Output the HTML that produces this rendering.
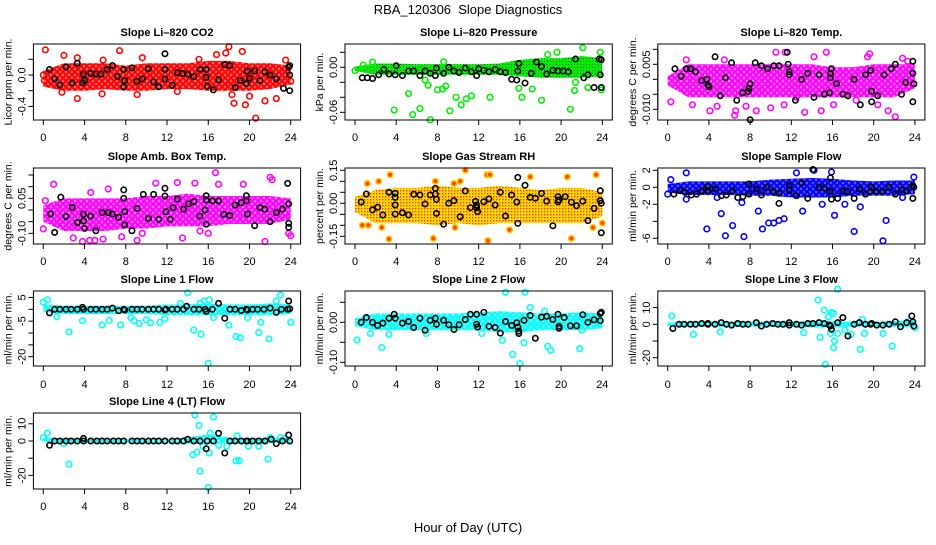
<!DOCTYPE html>
<html><head><meta charset="utf-8"><style>
html,body{margin:0;padding:0;background:#fff;}
svg text{font-family:"Liberation Sans",Arial,sans-serif;fill:#000;}
</style></head><body>
<svg id="chart" width="936" height="540" viewBox="0 0 936 540" xmlns="http://www.w3.org/2000/svg">
<defs>
<pattern id="patRH" width="3" height="3" patternUnits="userSpaceOnUse"><rect width="3" height="3" fill="#ffdd00"/><rect x="1" y="1" width="1.4" height="1.4" fill="#ff3300"/></pattern>
<pattern id="patGreen" width="3" height="3" patternUnits="userSpaceOnUse"><rect width="3" height="3" fill="#00ee00"/><rect x="1" y="1" width="1" height="1" fill="#115511"/></pattern>
<pattern id="patRed" width="6" height="6" patternUnits="userSpaceOnUse"><rect width="6" height="6" fill="#ff7070"/><circle cx="3" cy="3" r="2.4" fill="none" stroke="#ff0000" stroke-width="1.6"/><circle cx="0" cy="0" r="2.4" fill="none" stroke="#ff0000" stroke-width="1.6"/><circle cx="6" cy="6" r="2.4" fill="none" stroke="#ff0000" stroke-width="1.6"/><circle cx="0" cy="6" r="2.4" fill="none" stroke="#ff0000" stroke-width="1.6"/><circle cx="6" cy="0" r="2.4" fill="none" stroke="#ff0000" stroke-width="1.6"/></pattern>
<pattern id="patMag" width="6" height="6" patternUnits="userSpaceOnUse"><rect width="6" height="6" fill="#ff80ff"/><circle cx="3" cy="3" r="2.4" fill="none" stroke="#ff00ff" stroke-width="1.6"/><circle cx="0" cy="0" r="2.4" fill="none" stroke="#ff00ff" stroke-width="1.6"/><circle cx="6" cy="6" r="2.4" fill="none" stroke="#ff00ff" stroke-width="1.6"/><circle cx="0" cy="6" r="2.4" fill="none" stroke="#ff00ff" stroke-width="1.6"/><circle cx="6" cy="0" r="2.4" fill="none" stroke="#ff00ff" stroke-width="1.6"/></pattern>
<pattern id="patBlue" width="6" height="6" patternUnits="userSpaceOnUse"><rect width="6" height="6" fill="#6060ff"/><circle cx="3" cy="3" r="2.4" fill="none" stroke="#0000ff" stroke-width="1.6"/><circle cx="0" cy="0" r="2.4" fill="none" stroke="#0000ff" stroke-width="1.6"/><circle cx="6" cy="6" r="2.4" fill="none" stroke="#0000ff" stroke-width="1.6"/><circle cx="0" cy="6" r="2.4" fill="none" stroke="#0000ff" stroke-width="1.6"/><circle cx="6" cy="0" r="2.4" fill="none" stroke="#0000ff" stroke-width="1.6"/></pattern>
<pattern id="patCyan" width="6" height="6" patternUnits="userSpaceOnUse"><rect width="6" height="6" fill="#80ffff"/><circle cx="3" cy="3" r="2.4" fill="none" stroke="#00ffff" stroke-width="1.6"/><circle cx="0" cy="0" r="2.4" fill="none" stroke="#00ffff" stroke-width="1.6"/><circle cx="6" cy="6" r="2.4" fill="none" stroke="#00ffff" stroke-width="1.6"/><circle cx="0" cy="6" r="2.4" fill="none" stroke="#00ffff" stroke-width="1.6"/><circle cx="6" cy="0" r="2.4" fill="none" stroke="#00ffff" stroke-width="1.6"/></pattern>
</defs>
<text x="468" y="14" font-size="13" text-anchor="middle" xml:space="preserve">RBA_120306&#160; Slope Diagnostics</text>
<text x="468" y="532" font-size="13" text-anchor="middle">Hour of Day (UTC)</text>
<g id="panels"></g>
</svg>
<script>
const xTicks = [0,4,8,12,16,20,24];
const bandHours = [0,2,4,6,8,10,12,14,16,18,20,22,24];

// Panel 1: Li-820 CO2
const p1Lo = [-0.15,-0.2,-0.2,-0.18,-0.2,-0.2,-0.18,-0.18,-0.2,-0.2,-0.2,-0.18,-0.12];
const p1Hi = [0.05,0.15,0.15,0.15,0.12,0.15,0.15,0.15,0.18,0.18,0.15,0.15,0.12];
const p1Pts = [[0,0],[0.1,-0.07],[0.2,0.32],[2,0.25],[3.3,0.22],[3.3,-0.3],[7.4,0.31],[9.6,0.22],[5.8,0.19],[1.8,-0.22],[5.7,-0.24],[9.1,-0.25],[13,-0.21],[15.1,0.2],[16.8,0.26],[17.7,0.28],[18,0.36],[18.3,-0.25],[18.5,-0.36],[19.3,0.3],[19.6,-0.38],[20,-0.27],[20.6,-0.55],[21.5,-0.33],[22.6,-0.3],[23.5,0.19],[24,-0.08]];
const p1Blk = [[0.6,0.07],[1.1,-0.05],[1.6,-0.13],[2.2,0.1],[2.8,-0.1],[3.3,0.15],[3.8,-0.1],[3.9,0.01],[4,-0.07],[4.6,0.02],[5.1,0.01],[5.6,0.01],[6.2,0.07],[6.7,0.12],[7.2,-0.02],[7.8,0.07],[7.8,-0.15],[7.9,-0.07],[8.6,0.09],[9.1,-0.08],[9.6,-0.05],[10.2,0.08],[10.7,-0.09],[11.2,-0.15],[11.8,0.27],[11.8,0.07],[11.8,-0.05],[12.5,-0.13],[13,0.03],[13.5,0.02],[14,0.01],[14.6,-0.02],[15.2,0.07],[15.8,0.07],[15.8,-0.03],[15.9,-0.14],[16.5,-0.19],[17,-0.06],[17.6,0.13],[18.1,0.12],[18.6,-0.16],[19.1,-0.07],[19.7,-0.11],[19.8,0.05],[20,-0.04],[20.5,0.05],[21,-0.07],[21.5,0.04],[22,0],[22.6,-0.05],[23.3,-0.17],[23.8,0.1],[23.9,0],[23.9,-0.2],[23.9,0.12]];

// Panel 2: Li-820 Pressure
const p2Lo = [-0.005,-0.01,-0.01,-0.01,-0.01,-0.01,-0.01,-0.01,-0.012,-0.014,-0.014,-0.014,-0.012];
const p2Hi = [0.001,0.005,0.005,0.004,0.004,0.004,0.004,0.005,0.01,0.012,0.012,0.015,0.012];
const p2Pts = [[0,-0.0045],[0.8,0.003],[1.7,0.007],[5.2,-0.035],[3.8,-0.057],[5.6,-0.063],[6.3,-0.055],[6.8,-0.017],[7.3,-0.07],[7.1,-0.024],[8,-0.03],[8.5,-0.029],[8.6,0.0075],[8.8,-0.025],[9.2,-0.058],[9.8,-0.04],[10.3,-0.05],[10.8,-0.042],[11.3,-0.038],[13.1,-0.04],[15.9,-0.028],[16.2,-0.04],[17.2,-0.029],[18.1,-0.044],[19.6,0.02],[18.7,0.017],[20.9,-0.056],[21.3,-0.031],[21.4,-0.02],[22.1,0.026],[22.6,-0.027],[23.9,-0.03],[23.8,0.02]];
const p2Blk = [[0.7,-0.014],[1.2,-0.014],[1.7,-0.015],[2.3,-0.01],[2.8,-0.003],[3.3,-0.009],[3.9,-0.01],[4,0.002],[4.6,-0.011],[5.2,-0.005],[5.7,-0.005],[6.3,-0.011],[6.8,-0.005],[7.3,-0.008],[7.8,-0.011],[7.9,-0.001],[8.6,-0.008],[9.1,0],[9.6,-0.005],[10.1,-0.007],[10.7,-0.001],[11.3,-0.006],[11.8,-0.011],[12,-0.002],[12.5,-0.004],[13,-0.006],[13.6,-0.003],[14.1,-0.006],[14.6,-0.007],[15.2,-0.016],[15.7,-0.017],[15.8,-0.005],[15.9,0.005],[16.5,-0.021],[17.1,-0.008],[17.6,0.007],[18.1,0.001],[18.6,-0.009],[19.2,-0.004],[19.7,-0.005],[20.2,-0.005],[20.7,-0.006],[22.2,-0.014],[22.6,-0.01],[23.2,-0.027],[23.8,-0.01],[23.9,-0.027],[23.9,0.01],[23.7,0.011],[21.4,0.011]];

// Panel 3: Li-820 Temp.
const p3Lo = [-0.002,-0.006,-0.006,-0.006,-0.006,-0.006,-0.006,-0.006,-0.006,-0.006,-0.006,-0.006,-0.003];
const p3Hi = [0.001,0.005,0.005,0.005,0.005,0.005,0.005,0.005,0.004,0.004,0.005,0.005,0.005];
const p3Pts = [[1.8,0.0065],[2.4,-0.0085],[4.1,-0.0105],[4.8,-0.009],[5.5,0.0065],[6.5,-0.012],[6.6,-0.0105],[7.6,-0.009],[8.6,-0.0105],[10,-0.0095],[10.5,0.009],[11.3,-0.0085],[11.4,0.009],[12.5,-0.006],[13.3,-0.011],[14.2,0.0075],[14.9,-0.0105],[15.4,0.009],[16.1,-0.0085],[18.3,-0.007],[19.4,0.0075],[19.6,0.0085],[20.4,-0.0085],[21.4,-0.0105],[22.1,-0.0125],[22.8,0.007],[23.3,0.006],[0.3,-0.0075]];
const p3Blk = [[0.7,0.0035],[1.3,0.001],[1.8,0.0035],[2.2,0.0035],[2.7,0.0025],[3.3,-0.0005],[3.8,0],[3.9,-0.002],[4,-0.0025],[4.6,0.0075],[5.1,-0.0055],[5.6,0.0005],[6.2,0.0055],[6.7,-0.007],[7.3,-0.0045],[7.8,-0.004],[7.9,-0.003],[8,-0.0015],[8,-0.0135],[8.5,0.0055],[9.1,0.0045],[9.7,0.0035],[10.3,0.0045],[10.8,0.0045],[11.6,0.009],[11.7,0.005],[11.8,0.0025],[11.8,0.0015],[12.4,-0.007],[13,0],[13.6,0.002],[14.2,-0.006],[14.7,0.0015],[15.2,-0.005],[15.7,-0.0045],[15.8,0.0005],[15.8,0.002],[15.9,0.0035],[16.4,-0.0015],[17,-0.005],[17.5,-0.0055],[18.1,0],[18.7,-0.0085],[19.2,0.0015],[19.7,0.003],[19.8,-0.004],[19.8,-0.0075],[20.4,-0.0055],[21,0.0015],[21.7,0.0035],[22.1,0.005],[22.7,-0.005],[23.1,-0.001],[23.8,0.006],[23.8,0.002],[23.9,-0.0015],[23.8,-0.0075]];

// Panel 4: Amb. Box Temp.
const p4Lo = [-0.05,-0.09,-0.09,-0.09,-0.08,-0.08,-0.07,-0.07,-0.07,-0.06,-0.06,-0.06,-0.04];
const p4Hi = [0.02,0.05,0.05,0.05,0.05,0.06,0.06,0.07,0.06,0.06,0.06,0.06,0.05];
const p4Pts = [[0,-0.081],[0.2,0.04],[1,0.11],[2.9,-0.12],[3.8,-0.135],[4.5,-0.13],[5,-0.13],[5.8,-0.125],[4.6,0.075],[6.3,0.09],[7.6,-0.115],[9.1,-0.13],[9.6,-0.1],[10.9,0.115],[13,0.118],[13.5,-0.12],[14.7,0.115],[15.2,-0.09],[16,-0.1],[16.7,0.16],[17,0.11],[19.4,0.11],[21.5,-0.135],[22,0.14],[22.2,0.13],[24,-0.11],[23.8,-0.1]];
const p4Blk = [[1.1,-0.096],[0.7,-0.017],[1.7,0.055],[2.2,-0.028],[2.8,0.011],[3.3,-0.054],[3.9,-0.017],[3.9,-0.046],[4,-0.079],[4.6,-0.026],[5.1,-0.089],[5.7,-0.011],[6.3,-0.011],[6.7,-0.017],[7.3,-0.031],[7.8,0.086],[7.8,0.05],[7.9,-0.007],[7.9,-0.064],[8.6,-0.089],[9.1,0.007],[9.7,0.067],[10.2,-0.036],[10.7,0.067],[11.2,-0.04],[11.8,0.093],[11.8,0.06],[11.9,-0.007],[12.3,-0.04],[12.6,0.01],[13,0.047],[13.6,0.003],[14.1,0.026],[14.6,0.036],[15.2,-0.026],[15.7,0],[15.8,0.043],[15.8,0.061],[15.8,-0.061],[16.4,0.039],[17,0.039],[17.5,-0.019],[18.1,-0.024],[18.6,0.021],[19.2,0.031],[19.7,0.039],[19.7,0.061],[19.8,-0.017],[20.5,-0.067],[21,0.01],[21.5,0.003],[22,-0.05],[22.6,-0.011],[23.2,0.004],[23.7,0.114],[23.8,0.026],[23.8,-0.057],[23.8,-0.074]];

// Panel 5: Gas Stream RH
const p5Lo = [-0.04,-0.09,-0.09,-0.09,-0.1,-0.09,-0.1,-0.09,-0.09,-0.09,-0.09,-0.09,-0.06];
const p5Hi = [0.03,0.06,0.07,0.07,0.08,0.07,0.07,0.08,0.07,0.06,0.07,0.07,0.05];
const p5Pts = [[3.3,-0.162],[3.4,0.13],[2.3,0.1],[2.6,-0.11],[7.6,-0.16],[7.8,0.1],[9.6,0.09],[9.7,-0.11],[10.7,0.15],[10.2,0.1],[12.9,-0.17],[12.8,0.13],[13.1,0.13],[17,0.12],[20.6,0.12],[21,-0.16],[23.4,0.13],[23.1,-0.11],[24,-0.09],[1.2,0.09],[0.7,-0.1],[1.3,-0.1],[15,-0.12]];
const p5Blk = [[0.6,0.006],[1.1,0.042],[1.7,-0.03],[2.2,-0.018],[2.7,-0.053],[3.3,0.05],[3.9,0.045],[3.9,0.027],[3.9,-0.008],[3.9,-0.049],[4.6,-0.043],[5.2,-0.053],[5.7,0.041],[6.3,0.038],[6.8,-0.003],[7.3,0.038],[7.8,0.068],[7.8,0.042],[7.9,0.018],[7.9,-0.046],[8.6,-0.095],[9.1,0],[9.6,0.012],[10.2,-0.061],[10.7,0.056],[11.2,-0.02],[11.7,0.009],[11.8,-0.008],[11.8,-0.02],[11.9,-0.038],[12.5,0.007],[13,0.02],[13.6,-0.008],[14.1,0.05],[14.6,-0.058],[15.2,0.038],[15.7,0.006],[15.8,-0.091],[15.8,0.118],[16.5,0.082],[17,0.027],[17.5,0.023],[18.1,0.045],[18.6,0.01],[19.2,-0.102],[19.7,0.03],[19.7,0.007],[19.8,0.015],[20.4,0.03],[21,0.005],[21.5,-0.011],[22.1,0.01],[22.6,-0.079],[23.2,-0.023],[23.8,0.057],[23.8,0.012],[23.9,0],[23.9,-0.134]];

// Panel 6: Sample Flow
const p6Lo = [-0.6,-0.9,-0.9,-0.9,-1,-1,-1.2,-1.2,-1.2,-1,-1,-1,-0.8];
const p6Hi = [0.4,0.7,0.7,0.7,0.7,0.9,1,1.1,1,0.8,0.7,0.8,0.8];
const p6Pts = [[0,-0.8],[0.3,0.9],[1.8,1.7],[1.8,-1.4],[3.8,-4.9],[4.8,-1.2],[5.2,-3.1],[5.6,-5.7],[6.3,-4.5],[7.2,-1.8],[7.4,-5.8],[8.8,-2.8],[9.2,-4.9],[9.8,-4.2],[10.3,-4.2],[10.8,-3.9],[11.3,-3.7],[12.5,1.7],[13.1,-2.8],[14.2,2],[15,-2],[15.9,1.8],[16.2,-3.3],[17.2,-2],[18.1,-5.2],[18.7,-2.3],[20.9,-6.3],[21.2,-3.9],[22.8,-1.2],[23.9,1.2]];
const p6Blk = [[0.6,-0.8],[1.2,-0.4],[1.7,-0.6],[2.3,-0.9],[2.8,-0.8],[3.3,-0.4],[3.9,-0.4],[3.9,0.1],[4.6,-0.2],[5.2,-1],[5.7,-0.9],[6.3,-0.4],[6.8,-1.2],[7.3,-1.1],[7.9,0.4],[7.9,-0.8],[8.6,-0.2],[9.1,-0.9],[9.6,0],[10.2,-0.5],[10.8,-1.9],[10.8,-0.7],[11.8,0.2],[11.8,-0.4],[12.5,-1],[13,0.5],[13.6,-1.3],[14.1,2.1],[14.7,0],[15.2,-0.1],[15.8,1.1],[15.8,-0.5],[15.9,-1.4],[16.5,-1.3],[17,-0.5],[17.5,-0.5],[18.1,-1.3],[18.6,-0.2],[19.2,-0.8],[19.7,-0.5],[19.8,0],[20.3,-0.5],[20.9,-0.5],[21.5,0],[22.1,-0.8],[22.7,-0.3],[23.2,-0.4],[23.8,0.2],[23.8,-1.3],[23.9,0]];

// Panel 7: Line 1 Flow
const p7Lo = [-1,-2,-2,-2,-2,-2,-2.5,-2.5,-2.5,-2.5,-2.5,-2.5,-2];
const p7Hi = [2,1.5,1.5,1.5,1.5,1.5,2,2,2.5,2,2,2.5,2];
const p7Pts = [[0,3],[0.4,4],[1.3,-3.1],[2.5,-9.5],[3.8,-4.8],[5.7,-6.6],[6.4,-4.7],[7.5,-6.6],[8.5,-3.5],[8.8,-4.8],[9.3,-6],[10,-4.4],[10.4,-5.7],[11.3,-5.5],[11.8,-4],[13.3,2.5],[14,7],[14.6,-8.7],[15.3,-10.5],[15.2,2.5],[15.6,3.5],[16,-22.8],[16.1,4],[16.5,-3.5],[18,-6.7],[18.7,-11.5],[19.1,-12],[19.8,-3.5],[20.9,-9.8],[21.1,-5.5],[21.9,-12.5],[22.6,3.5],[23,6],[24,-5.5]];
const p7Blk = [[0.6,-1.5],[1.1,0],[1.6,0],[2.2,0],[2.7,0],[3.3,0],[3.8,0.8],[3.9,0],[4.6,0],[5.1,0],[5.7,0],[6.2,0],[6.7,0.5],[7.3,-0.6],[7.8,0],[7.9,-0.3],[8.6,0],[9.1,0],[9.6,0],[10.2,0],[10.7,0],[11.2,0],[11.8,-0.3],[11.9,0],[12.5,0],[13,0],[13.6,0],[13.9,1.3],[14.6,0],[15.1,0],[15.7,0],[15.8,-0.9],[16.4,0],[17,2.5],[17.6,-3.8],[18.1,0],[18.6,0],[19.2,-0.5],[19.7,0],[19.8,-0.3],[20.3,0],[20.8,0],[21.4,0],[22,0.5],[22.6,-1.3],[23.1,0],[23.7,0],[23.8,3.5],[23.9,0.2]];

// Panel 8: Line 2 Flow
const p8Lo = [-0.01,-0.02,-0.02,-0.02,-0.02,-0.02,-0.02,-0.025,-0.025,-0.02,-0.02,-0.02,-0.015];
const p8Hi = [0.01,0.022,0.022,0.022,0.022,0.022,0.025,0.028,0.025,0.022,0.022,0.025,0.022];
const p8Pts = [[0.2,-0.044],[1.5,-0.028],[2.6,-0.063],[3.3,-0.03],[6.9,-0.028],[12.3,-0.028],[14.3,-0.045],[14.6,0.075],[15.3,-0.08],[16,-0.103],[16.4,-0.051],[16.5,0.075],[17,0.037],[18.4,0.028],[18.7,-0.06],[19,-0.07],[21.8,-0.066],[22,-0.02]];
const p8Blk = [[0.6,0],[1.1,0.012],[1.7,0],[2.2,-0.008],[2.7,-0.002],[3.3,0.01],[3.8,0.02],[3.9,0.01],[4.6,-0.002],[5.2,0.002],[5.7,-0.013],[6.3,0.01],[6.8,-0.02],[7.3,0.005],[7.8,0.01],[7.9,-0.005],[8.6,0.005],[9.1,-0.006],[9.6,-0.018],[10.1,-0.006],[10.7,0.007],[11.2,0.02],[11.8,0.02],[11.8,-0.005],[11.9,-0.012],[12.5,0.025],[13,-0.01],[13.6,-0.013],[14.1,-0.027],[14.6,0.002],[15.2,-0.008],[15.7,-0.001],[15.8,-0.012],[15.9,-0.022],[15.9,-0.028],[16.4,0.005],[17,0.017],[17.5,-0.04],[18.1,0.013],[18.6,0.015],[19.2,0.007],[19.7,0.02],[19.8,-0.01],[19.8,-0.015],[20.3,0.012],[20.9,-0.009],[21.5,-0.009],[22.1,0.019],[22.6,0],[23.2,0.006],[23.8,0.022],[23.8,0.004],[23.9,0.025]];

// Panel 9: Line 3 Flow
const p9Lo = [-1,-1.5,-1.5,-1.5,-1.5,-1.5,-1.5,-2,-2,-1.5,-1.5,-1.5,-2];
const p9Hi = [1,1.5,1.5,1.5,1.5,1.5,1.5,2,2,1.5,1.5,2,2.5];
const p9Pts = [[0.4,5],[2.5,-6],[5.1,-4.5],[13.2,-5],[14.6,14.5],[14.8,-7.8],[15.2,8.5],[15.3,-24],[15.6,4.5],[15.8,-5.5],[15.9,7],[16.1,6.5],[16.2,-10],[16.1,-14],[16.5,-5.5],[16.5,21],[17.2,-3.5],[17.8,-6],[18.7,-15],[18.9,3],[19.1,-5.5],[20.9,-5.5],[21.8,-13],[23.5,2],[24,-2]];
const p9Blk = [[0.5,-2.5],[1.1,0],[1.6,0],[2.2,0],[2.7,0],[3.3,0.5],[3.9,0.5],[3.9,0],[4.6,0],[5.2,1],[5.7,0],[6.2,-0.5],[6.8,0.5],[7.3,0],[7.8,0],[8.6,1],[9.1,-1],[9.6,0],[10.2,0.5],[10.7,0],[11.2,0],[11.8,1],[11.8,-0.5],[12.5,0],[13,-0.5],[13.6,0.5],[14.1,0.5],[14.7,1],[15.2,0.5],[15.7,-0.5],[15.8,-1],[15.9,-3],[16.5,1],[17,4],[17.5,-7],[18.1,0],[18.6,1],[19.2,0],[19.7,0],[19.8,0.5],[20.3,-0.5],[20.9,-0.5],[21.5,0],[22.1,1.5],[22.6,-1.5],[23.2,1],[23.7,5],[23.8,1.5],[23.9,-1]];

// Panel 10: Line 4 (LT) Flow
const p10Lo = [-0.5,-1,-1,-1,-1,-1,-1,-1.5,-2,-1,-1,-1,-1];
const p10Hi = [2,1.5,1,1,1,1,1,2,4,2,1.5,2,2];
const p10Pts = [[0,2],[0.4,4.5],[2,-1.5],[2.5,-13.5],[14.5,-8],[14.7,15],[14.9,-6.5],[15.1,9],[15.2,-17.5],[15.5,-3],[16,-27],[16.1,-7],[16.2,4.5],[16.5,14],[17,-2.5],[17.8,-3],[18.7,-11.5],[18.8,3],[19,-11.5],[19.9,-3],[20.9,-3],[21.8,-10.5],[22,2],[23,2],[23.5,1.5]];
const p10Blk = [[0.6,-2.5],[1.1,0],[1.6,0],[2.2,0],[2.7,0],[3.3,0],[3.9,1.5],[3.9,0],[4.6,0],[5.2,0],[5.7,0],[6.2,0],[6.8,0],[7.3,0],[7.8,0],[8.6,0],[9.1,0],[9.6,0],[10.2,0],[10.7,0],[11.2,0],[11.8,0],[12.5,0],[13,0],[13.6,0],[14,1],[14.6,0],[15.2,0],[15.8,-4.5],[15.9,0],[16.5,0],[17,4.5],[17.6,-7],[18.1,0],[18.6,0],[19.2,0],[19.7,0],[19.8,0],[20.3,0],[20.9,0],[21.5,0],[22.1,1],[22.6,-1.5],[23.2,0],[23.8,3.5],[23.9,0]];

// Tick values / labels
const p1Ticks=[0.2,0,-0.2,-0.4], p1Labels=["","0.0","","-0.4"];
const p2Ticks=[0.02,0,-0.02,-0.04,-0.06], p2Labels=["","0.00","","","-0.06"];
const p3Ticks=[0.01,0.005,0,-0.005,-0.01], p3Labels=["","0.005","","","-0.010"];
const p4Ticks=[0.15,0.1,0.05,0,-0.05,-0.1], p4Labels=["","","0.05","","","-0.10"];
const p5Ticks=[0.15,0.1,0.05,0,-0.05,-0.1,-0.15], p5Labels=["0.15","","","0.00","","","-0.15"];
const p6Ticks=[2,0,-2,-4,-6], p6Labels=["2","0","-2","","-6"];
const p7Ticks=[5,0,-5,-10,-15,-20], p7Labels=["5","","-5","","","-20"];
const p8Ticks=[0.05,0,-0.05,-0.1], p8Labels=["","0.00","","-0.10"];
const p9Ticks=[10,0,-10,-20], p9Labels=["10","0","","-20"];
const p10Ticks=[10,0,-10,-20], p10Labels=["10","0","","-20"];

const NS="http://www.w3.org/2000/svg";
const root=document.getElementById('panels');
const cols=[{x0:43.3,k:10.31,l:33.4,r:300.6},{x0:355,k:10.305,l:345,r:612.3},{x0:667.7,k:10.3,l:657.8,r:924.9}];
const rows=[{top:44,bot:120,title:36,xl:141},{top:168,bot:244,title:160,xl:265},{top:291,bot:366,title:283,xl:388},{top:413,bot:489,title:405,xl:510}];

function mk(tag,attrs,parent){const e=document.createElementNS(NS,tag);for(const k in attrs)e.setAttribute(k,attrs[k]);(parent||root).appendChild(e);return e;}

function drawPanel(o){
  const c=cols[o.col], r=rows[o.row];
  const xs=h=>c.x0+h*c.k, ys=v=>o.y0-v*o.ky;
  const g=mk('g',{});
  
  
  const t=mk('text',{x:(c.l+c.r)/2,y:r.title,'font-size':11,'font-weight':'bold','text-anchor':'middle'},g);
  t.textContent=o.title;
  
  
  let pts=bandHours.map((h,i)=>xs(h)+','+ys(o.hi[i]));
  for(let i=bandHours.length-1;i>=0;i--)pts.push(xs(bandHours[i])+','+ys(o.lo[i]));
  const band=mk('polygon',{points:pts.join(' '),fill:o.bandFill,stroke:'none'},g);
  
  
  o.pts.forEach(p=>{
    const cc=mk('circle',{cx:xs(p[0]),cy:ys(p[1]),r:2.8,fill:o.ptFill||'none',stroke:o.color,'stroke-width':1.6},g);
    
    
  });
  o.blk.forEach(p=>{
    const cc=mk('circle',{cx:xs(p[0]),cy:ys(p[1]),r:2.7,fill:'none',stroke:'#000','stroke-width':1.6},g);
    
    
  });
  const box=mk('rect',{x:c.l,y:r.top,width:c.r-c.l,height:r.bot-r.top,fill:'none',stroke:'#000','stroke-width':1},g);
  
  
  mk('line',{x1:xs(xTicks[0]),x2:xs(xTicks[xTicks.length-1]),y1:r.bot,y2:r.bot,stroke:'#000'},g);
  xTicks.forEach(h=>{
    mk('line',{x1:xs(h),x2:xs(h),y1:r.bot,y2:r.bot+5,stroke:'#000'},g);
    const tl=mk('text',{x:xs(h),y:r.xl,'font-size':11,'text-anchor':'middle'},g);
    tl.textContent=h;
    
    
  });
  mk('line',{x1:c.l,x2:c.l,y1:ys(o.ticks[0]),y2:ys(o.ticks[o.ticks.length-1]),stroke:'#000'},g);
  o.ticks.forEach((v,i)=>{
    const y=ys(v);
    mk('line',{x1:c.l-5,x2:c.l,y1:y,y2:y,stroke:'#000'},g);
    if(o.labels[i]){
      const tl=mk('text',{x:0,y:0,'font-size':11,'text-anchor':'middle',transform:`translate(${c.l-8},${y}) rotate(-90)`},g);
      tl.textContent=o.labels[i];
      
      
    }
  });
  const yt=mk('text',{x:0,y:0,'font-size':10.5,'text-anchor':'middle',transform:`translate(${c.l-22},${(r.top+r.bot)/2}) rotate(-90)`},g);
  yt.textContent=o.ytitle;
  
  
}

drawPanel({name:'panel-co2',title:'Slope Li\u2013820 CO2',ytitle:'Licor ppm per min.',col:0,row:0,y0:75,ky:78.5,lo:p1Lo,hi:p1Hi,pts:p1Pts,blk:p1Blk,ticks:p1Ticks,labels:p1Labels,color:'#ff0000',bandFill:'url(#patRed)'});
drawPanel({name:'panel-pressure',title:'Slope Li\u2013820 Pressure',ytitle:'kPa per min.',col:1,row:0,y0:67.3,ky:750,lo:p2Lo,hi:p2Hi,pts:p2Pts,blk:p2Blk,ticks:p2Ticks,labels:p2Labels,color:'#00ee00',bandFill:'url(#patGreen)'});
drawPanel({name:'panel-li820-temp',title:'Slope Li\u2013820 Temp.',ytitle:'degrees C per min.',col:2,row:0,y0:79.3,ky:3000,lo:p3Lo,hi:p3Hi,pts:p3Pts,blk:p3Blk,ticks:p3Ticks,labels:p3Labels,color:'#ff00ff',bandFill:'url(#patMag)'});
drawPanel({name:'panel-amb-box-temp',title:'Slope Amb. Box Temp.',ytitle:'degrees C per min.',col:0,row:1,y0:210,ky:233.3,lo:p4Lo,hi:p4Hi,pts:p4Pts,blk:p4Blk,ticks:p4Ticks,labels:p4Labels,color:'#ff00ff',bandFill:'url(#patMag)'});
drawPanel({name:'panel-gas-rh',title:'Slope Gas Stream RH',ytitle:'percent per min.',col:1,row:1,y0:203.3,ky:220,lo:p5Lo,hi:p5Hi,pts:p5Pts,blk:p5Blk,ticks:p5Ticks,labels:p5Labels,color:'#ffcc00',bandFill:'url(#patRH)',ptFill:'#ff4400'});
drawPanel({name:'panel-sample-flow',title:'Slope Sample Flow',ytitle:'ml/min per min.',col:2,row:1,y0:187.3,ky:8.5,lo:p6Lo,hi:p6Hi,pts:p6Pts,blk:p6Blk,ticks:p6Ticks,labels:p6Labels,color:'#0000ff',bandFill:'url(#patBlue)'});
drawPanel({name:'panel-line1-flow',title:'Slope Line 1 Flow',ytitle:'ml/min per min.',col:0,row:2,y0:309.3,ky:2.37,lo:p7Lo,hi:p7Hi,pts:p7Pts,blk:p7Blk,ticks:p7Ticks,labels:p7Labels,color:'#00ffff',bandFill:'url(#patCyan)'});
drawPanel({name:'panel-line2-flow',title:'Slope Line 2 Flow',ytitle:'ml/min per min.',col:1,row:2,y0:322.3,ky:400,lo:p8Lo,hi:p8Hi,pts:p8Pts,blk:p8Blk,ticks:p8Ticks,labels:p8Labels,color:'#00ffff',bandFill:'url(#patCyan)'});
drawPanel({name:'panel-line3-flow',title:'Slope Line 3 Flow',ytitle:'ml/min per min.',col:2,row:2,y0:324.3,ky:1.67,lo:p9Lo,hi:p9Hi,pts:p9Pts,blk:p9Blk,ticks:p9Ticks,labels:p9Labels,color:'#00ffff',bandFill:'url(#patCyan)'});
drawPanel({name:'panel-line4-flow',title:'Slope Line 4 (LT) Flow',ytitle:'ml/min per min.',col:0,row:3,y0:441,ky:1.72,lo:p10Lo,hi:p10Hi,pts:p10Pts,blk:p10Blk,ticks:p10Ticks,labels:p10Labels,color:'#00ffff',bandFill:'url(#patCyan)'});
</script>
</body></html>
